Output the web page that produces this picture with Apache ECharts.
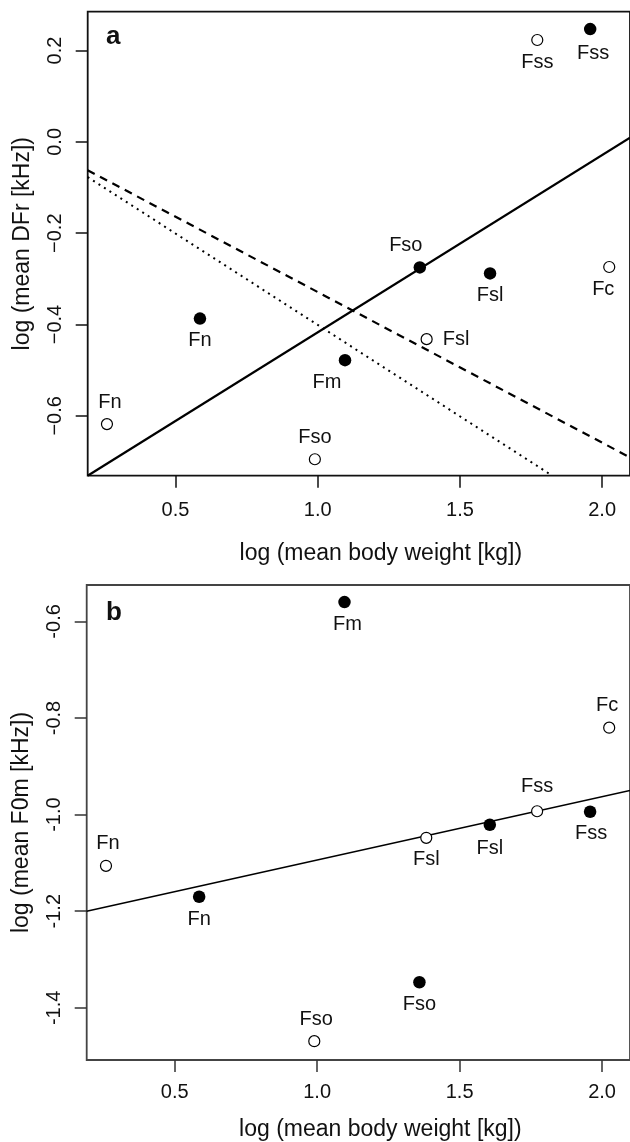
<!DOCTYPE html>
<html>
<head>
<meta charset="utf-8">
<script src="https://cdn.jsdelivr.net/npm/echarts@6.0.0/dist/echarts.min.js"></script>
<style>
  html, body { margin: 0; padding: 0; background: #fff; }
  #chart { width: 630px; height: 1142px; }
</style>
</head>
<body>
<div id="chart"></div>
<script>
// species names + log body weight (shared by both panels)
const filledNames = ['Fn', 'Fm', 'Fso', 'Fsl', 'Fss'];
const filledX = [0.586, 1.096, 1.359, 1.606, 1.958];
const openNames = ['Fn', 'Fso', 'Fsl', 'Fss', 'Fc'];
const openX = [0.259, 0.990, 1.383, 1.772, 2.025];

// panel a: log mean DFr
const filledYA = [-0.387, -0.478, -0.275, -0.288, 0.247];
const openYA = [-0.618, -0.695, -0.432, 0.223, -0.274];
// panel b: log mean F0m
const filledYB = [-1.170, -0.560, -1.347, -1.021, -0.994];
const openYB = [-1.106, -1.469, -1.048, -0.993, -0.820];

const solidA = [[0.191, -0.731], [2.098, 0.009]];
const dashedA = [[0.191, -0.062], [2.098, -0.691]];
const dottedA = [[0.191, -0.077], [1.825, -0.731]];
const solidB = [[0.191, -1.200], [2.098, -0.950]];

const xTicks = [0.5, 1.0, 1.5, 2.0];
const yTicksA = [-0.6, -0.4, -0.2, 0.0, 0.2];
const yTicksB = [-1.4, -1.2, -1.0, -0.8, -0.6];

const FONT = '"Liberation Sans", Arial, Helvetica, sans-serif';
const INK = '#111';

// label placement: [position, dx, dy]
const placeFilledA = [['bottom', 0, 0], ['bottom', -18, 0], ['top', -14, 0], ['bottom', 0, 0], ['bottom', 3, 2]];
const placeOpenA = [['top', 3, 0], ['top', 0, 0], ['right', 0, 0], ['bottom', 0, 0], ['bottom', -6, 0]];
const placeFilledB = [['bottom', 0, 0], ['bottom', 3, 0], ['bottom', 0, 0], ['bottom', 0, 1], ['bottom', 1, 0]];
const placeOpenB = [['top', 2, 0], ['top', 2, 0], ['bottom', 0, 0], ['top', 0, -3], ['top', -2, 0]];

const chart = echarts.init(document.getElementById('chart'));

function xAxisFor(gi, border, labelMargin, nameGap) {
  return {
    type: 'value', gridIndex: gi, min: 0.1913, max: 2.098,
    name: 'log (mean body weight [kg])', nameLocation: 'middle', nameGap: nameGap,
    nameTextStyle: { fontSize: 23, color: INK, fontFamily: FONT, padding: [0, 0, 0, 44] },
    axisLine: { show: false, onZero: false },
    axisTick: { show: true, length: 12, customValues: xTicks, lineStyle: { color: border, width: 1.5 } },
    axisLabel: { customValues: xTicks, margin: labelMargin, fontSize: 20, color: INK, fontFamily: FONT,
      formatter: v => v.toFixed(1) },
    splitLine: { show: false }
  };
}

function yAxisFor(gi, min, max, ticks, name, minus, border) {
  return {
    type: 'value', gridIndex: gi, min: min, max: max,
    name: name, nameLocation: 'middle', nameGap: 54,
    nameTextStyle: { fontSize: 23, color: INK, fontFamily: FONT },
    axisLine: { show: false, onZero: false },
    axisTick: { show: true, length: 12, customValues: ticks, lineStyle: { color: border, width: 1.5 } },
    axisLabel: { customValues: ticks, rotate: 90, margin: 22, fontSize: 20, color: INK, fontFamily: FONT,
      formatter: v => v.toFixed(1).replace('-', minus) },
    splitLine: { show: false }
  };
}

function points(gi, names, xs, ys, filled, places) {
  return {
    type: 'scatter', xAxisIndex: gi, yAxisIndex: gi,
    symbol: 'circle', symbolSize: filled ? 12.5 : 11,
    itemStyle: filled
      ? { color: '#000', opacity: 1 }
      : { color: '#fff', borderColor: '#000', borderWidth: 1.2, opacity: 1 },
    label: { show: true, formatter: '{b}', distance: 6, fontSize: 20, color: INK, fontFamily: FONT },
    data: names.map((n, i) => ({
      name: n, value: [xs[i], ys[i]],
      label: { position: places[i][0], offset: [places[i][1], places[i][2]],
        distance: places[i][0] === 'right' ? 10 : 6 }
    })),
    z: 5, silent: true
  };
}

function line(gi, data, type, width) {
  return {
    type: 'line', xAxisIndex: gi, yAxisIndex: gi, data: data,
    symbol: 'none', silent: true, z: 3,
    lineStyle: { color: '#000', width: width, type: type }
  };
}

chart.setOption({
  animation: false,
  backgroundColor: '#fff',
  grid: [
    { left: 87.7, top: 11.7, right: -3, height: 464, show: true, borderColor: '#111', borderWidth: 1.8 },
    { left: 86.7, top: 585, right: -3, height: 478.7, show: true, borderColor: '#444', borderWidth: 1.8 }
  ],
  xAxis: [xAxisFor(0, '#111', 25, 66), xAxisFor(1, '#333', 22, 58)],
  yAxis: [
    yAxisFor(0, -0.731, 0.285, yTicksA, 'log (mean DFr [kHz])', '\u2212', '#111'),
    yAxisFor(1, -1.508, -0.5246, yTicksB, 'log (mean F0m [kHz])', '-', '#333')
  ],
  graphic: [
    { type: 'text', x: 106, y: 37, style: { text: 'a', font: 'bold 26px ' + FONT, fill: INK, verticalAlign: 'middle' } },
    { type: 'text', x: 106, y: 613, style: { text: 'b', font: 'bold 26px ' + FONT, fill: INK, verticalAlign: 'middle' } }
  ],
  series: [
    line(0, solidA, 'solid', 2.2),
    line(0, dashedA, [8, 6], 2.2),
    line(0, dottedA, [2, 4.5], 2),
    points(0, filledNames, filledX, filledYA, true, placeFilledA),
    points(0, openNames, openX, openYA, false, placeOpenA),
    line(1, solidB, 'solid', 1.6),
    points(1, filledNames, filledX, filledYB, true, placeFilledB),
    points(1, openNames, openX, openYB, false, placeOpenB)
  ]
});
</script>
</body>
</html>
